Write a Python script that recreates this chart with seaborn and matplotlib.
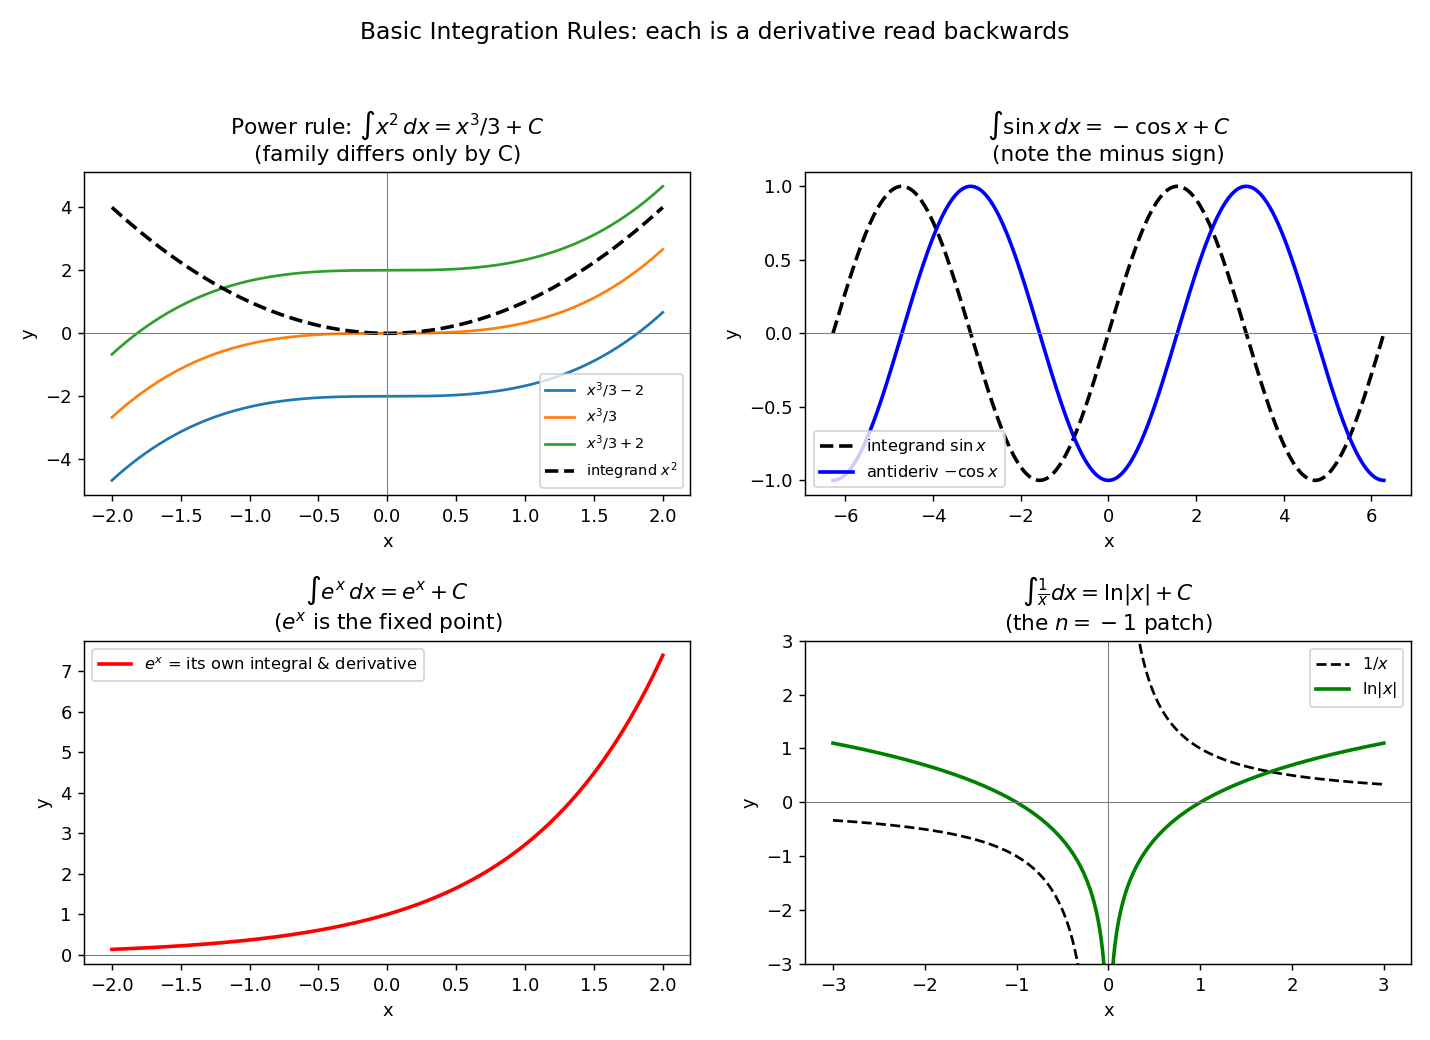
import numpy as np
import matplotlib.pyplot as plt
import seaborn as sns

# constants of integration shown in the power-rule family
familia_C = [-2, 0, 2]
cores_familia = ["#1f77b4", "#ff7f0e", "#2ca02c"]
rotulos_familia = [r"$x^3/3 - 2$", r"$x^3/3$", r"$x^3/3 + 2$"]

# x ranges
x_poly = np.linspace(-2, 2, 400)
x_trig = np.linspace(-2 * np.pi, 2 * np.pi, 600)
x_exp = np.linspace(-2, 2, 400)
x_neg = np.linspace(-3, -0.01, 400)
x_pos = np.linspace(0.01, 3, 400)

fig, axes = plt.subplots(2, 2, figsize=(11, 8), dpi=130)
fig.suptitle("Basic Integration Rules: each is a derivative read backwards", fontsize=13)

# 1. power rule
ax = axes[0, 0]
for C, cor, rot in zip(familia_C, cores_familia, rotulos_familia):
    sns.lineplot(x=x_poly, y=x_poly**3 / 3 + C, ax=ax, color=cor, linewidth=1.5, label=rot)
sns.lineplot(x=x_poly, y=x_poly**2, ax=ax, color="black", linestyle="--", linewidth=2,
             label=r"integrand $x^2$")
ax.axhline(0, color="gray", linewidth=0.6)
ax.axvline(0, color="gray", linewidth=0.6)
ax.set_title("Power rule: $\\int x^2\\,dx = x^3/3 + C$\n(family differs only by C)", fontsize=12)
ax.set_xlabel("x")
ax.set_ylabel("y")
ax.legend(loc="lower right", fontsize=8)

# 2. sine
ax = axes[0, 1]
sns.lineplot(x=x_trig, y=np.sin(x_trig), ax=ax, color="black", linestyle="--", linewidth=2,
             label=r"integrand $\sin x$")
sns.lineplot(x=x_trig, y=-np.cos(x_trig), ax=ax, color="blue", linewidth=2,
             label=r"antideriv $-\cos x$")
ax.axhline(0, color="gray", linewidth=0.6)
ax.set_title("$\\int \\sin x\\,dx = \\:-\\:\\cos x + C$\n(note the minus sign)", fontsize=12)
ax.set_xlabel("x")
ax.set_ylabel("y")
ax.legend(loc="lower left", fontsize=9)

# 3. exponential
ax = axes[1, 0]
sns.lineplot(x=x_exp, y=np.exp(x_exp), ax=ax, color="red", linewidth=2,
             label=r"$e^x$ = its own integral & derivative")
ax.axhline(0, color="gray", linewidth=0.6)
ax.set_title("$\\int e^x\\,dx = e^x + C$\n($e^x$ is the fixed point)", fontsize=12)
ax.set_xlabel("x")
ax.set_ylabel("y")
ax.legend(loc="upper left", fontsize=9)

# 4. 1/x and ln|x|
ax = axes[1, 1]
sns.lineplot(x=x_neg, y=1 / x_neg, ax=ax, color="black", linestyle="--", linewidth=1.5, label=r"$1/x$")
sns.lineplot(x=x_pos, y=1 / x_pos, ax=ax, color="black", linestyle="--", linewidth=1.5)
sns.lineplot(x=x_neg, y=np.log(np.abs(x_neg)), ax=ax, color="green", linewidth=2, label=r"$\ln|x|$")
sns.lineplot(x=x_pos, y=np.log(np.abs(x_pos)), ax=ax, color="green", linewidth=2)
ax.axhline(0, color="gray", linewidth=0.6)
ax.axvline(0, color="gray", linewidth=0.6)
ax.set_ylim(-3, 3)
ax.set_title("$\\int \\frac{1}{x} dx = \\ln|x| + C$\n(the $n = \\:-\\:1$ patch)", fontsize=12)
ax.set_xlabel("x")
ax.set_ylabel("y")
ax.legend(loc="upper right", fontsize=9)

plt.subplots_adjust(left=0.059, right=0.987, top=0.835, bottom=0.073, hspace=0.45, wspace=0.19)
plt.savefig("out.png", dpi=130)
